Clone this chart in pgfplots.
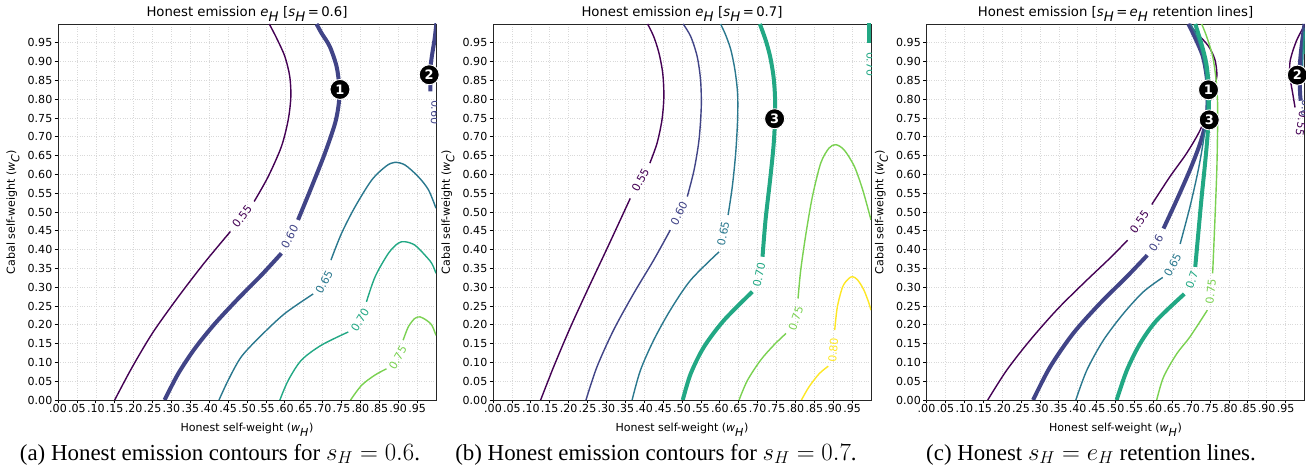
\documentclass[border=0pt]{standalone}
\usepackage{pgfplots}
\pgfplotsset{compat=1.18}
\usepackage{fontspec}
\setmainfont{Liberation Serif}
\newfontfamily\dejavu{DejaVu Sans}
\definecolor{v0}{HTML}{440154}
\definecolor{v1}{HTML}{414487}
\definecolor{v2}{HTML}{2A788E}
\definecolor{v3}{HTML}{22A884}
\definecolor{v4}{HTML}{7AD151}
\definecolor{v5}{HTML}{FDE725}
\newcommand{\sub}[2]{\textit{#1}$_{\textit{#2}}$}
\tikzset{clab/.style={font=\dejavu\fontsize{11}{11}\selectfont, inner sep=0pt}}
\pgfplotsset{
  panel/.style={
    scale only axis, width=378bp, height=376bp,
    xmin=0, xmax=1, ymin=0, ymax=1,
    xtick={0,0.05,0.1,0.15,0.2,0.25,0.3,0.35,0.4,0.45,0.5,0.55,0.6,0.65,0.7,0.75,0.8,0.85,0.9,0.95},
    ytick={0,0.05,0.1,0.15,0.2,0.25,0.3,0.35,0.4,0.45,0.5,0.55,0.6,0.65,0.7,0.75,0.8,0.85,0.9,0.95},
    xticklabels={.00,.05,.10,.15,.20,.25,.30,.35,.40,.45,.50,.55,.60,.65,.70,.75,.80,.85,.90,.95},
    yticklabels={0.00,0.05,0.10,0.15,0.20,0.25,0.30,0.35,0.40,0.45,0.50,0.55,0.60,0.65,0.70,0.75,0.80,0.85,0.90,0.95},
    tick align=outside, tick pos=left, major tick length=3.5bp,
    grid=major, grid style={dotted, gray!30, line width=0.6bp},
    axis line style={black!85, line width=0.8bp},
    every tick/.style={black, line width=0.8bp},
    ticklabel style={font=\dejavu\fontsize{11.1}{12}\selectfont},
    xticklabel style={inner sep=1bp},
    yticklabel style={inner sep=2bp},
    every axis x label/.style={at={(axis description cs:0.5,-0.0843)}, anchor=base, font=\dejavu\fontsize{11.1}{12}\selectfont},
    every axis y label/.style={at={(axis description cs:-0.119,0.5)}, anchor=center, rotate=90, font=\dejavu\fontsize{11.1}{12}\selectfont},
    every axis title/.style={at={(axis description cs:0.5,1.0194)}, anchor=base, font=\dejavu\fontsize{13.3}{15}\selectfont},
    xlabel={Honest self-weight (\sub{w}{H})},
    ylabel={Cabal self-weight (\sub{w}{C})},
  },
  ln/.style={smooth, no marks, line width=1.4bp},
  tk/.style={smooth, no marks, line width=4bp},
  mk/.style={only marks, mark=*, mark size=10bp,
    mark options={fill=black, draw=white, line width=0.9bp},
    point meta=explicit symbolic, nodes near coords,
    nodes near coords style={anchor=center, text=white, inner sep=0pt,
      font=\dejavu\bfseries\fontsize{13}{13}\selectfont}},
}
\begin{document}
\begin{tikzpicture}
\path[use as bounding box] (0,0) rectangle (1306bp,476bp);
% ---------------- panel (a)
\begin{axis}[panel, at={(58bp,76bp)}, anchor=south west,
  title={Honest emission \sub{e}{H} [\sub{s}{H}\,=\,0.6]}]
\addplot[ln, v0] coordinates {(0.150,0) (0.195,0.085) (0.250,0.178) (0.315,0.270) (0.385,0.362) (0.456,0.448)};
\addplot[ln, v0] coordinates {(0.519,0.528) (0.556,0.594) (0.591,0.674) (0.609,0.745) (0.616,0.807) (0.613,0.861) (0.600,0.914) (0.578,0.963) (0.559,1.0)};
\addplot[tk, v1] coordinates {(0.282,0) (0.318,0.070) (0.362,0.137) (0.415,0.203) (0.477,0.270) (0.538,0.332) (0.591,0.390)};
\addplot[tk, v1] coordinates {(0.635,0.479) (0.671,0.567) (0.706,0.656) (0.733,0.736) (0.743,0.790) (0.744,0.834) (0.737,0.887) (0.719,0.940) (0.697,0.976) (0.684,1.0)};
\addplot[tk, v1] coordinates {(1.002,1.01) (0.996,0.958) (0.989,0.914) (0.985,0.878) (0.985,0.821)};
\addplot[ln, v2] coordinates {(0.426,0) (0.450,0.052) (0.485,0.115) (0.538,0.172) (0.600,0.230) (0.675,0.282)};
\addplot[ln, v2] coordinates {(0.722,0.372) (0.750,0.443) (0.786,0.514) (0.830,0.585) (0.868,0.622) (0.891,0.632) (0.918,0.625) (0.953,0.594) (0.980,0.559) (1.0,0.510)};
\addplot[ln, v3] coordinates {(0.587,0) (0.609,0.052) (0.644,0.106) (0.697,0.146) (0.768,0.181)};
\addplot[ln, v3] coordinates {(0.816,0.261) (0.839,0.328) (0.874,0.390) (0.900,0.417) (0.918,0.421) (0.944,0.412) (0.971,0.385) (0.989,0.363) (1.0,0.337)};
\addplot[ln, v4] coordinates {(0.774,0) (0.803,0.039) (0.838,0.066) (0.869,0.083)};
\addplot[ln, v4] coordinates {(0.913,0.159) (0.927,0.195) (0.944,0.217) (0.958,0.221) (0.975,0.212) (0.989,0.199) (1.0,0.172)};
\node[clab, text=v0, rotate=52] at (axis cs:0.487,0.488) {0.55};
\node[clab, text=v1, rotate=63] at (axis cs:0.613,0.434) {0.60};
\node[clab, text=v2, rotate=62] at (axis cs:0.704,0.314) {0.65};
\node[clab, text=v3, rotate=59] at (axis cs:0.799,0.212) {0.70};
\node[clab, text=v4, rotate=60] at (axis cs:0.899,0.113) {0.75};
\node[clab, text=v1, rotate=-92] at (axis cs:0.998,0.765) {0.60};
\addplot[mk] coordinates {(0.746,0.826)[1] (0.982,0.865)[2]};
\end{axis}
% ---------------- panel (b)
\begin{axis}[panel, at={(493bp,76bp)}, anchor=south west,
  title={Honest emission \sub{e}{H} [\sub{s}{H}\,=\,0.7]}]
\addplot[ln, v0] coordinates {(0.126,0) (0.162,0.092) (0.205,0.194) (0.252,0.297) (0.305,0.410) (0.363,0.536)};
\addplot[ln, v0] coordinates {(0.415,0.630) (0.434,0.683) (0.447,0.745) (0.452,0.807) (0.449,0.869) (0.439,0.923) (0.425,0.967) (0.409,1.0)};
\addplot[ln, v1] coordinates {(0.246,0) (0.275,0.088) (0.319,0.186) (0.372,0.283) (0.425,0.372) (0.469,0.452)};
\addplot[ln, v1] coordinates {(0.514,0.541) (0.532,0.612) (0.545,0.692) (0.551,0.781) (0.549,0.852) (0.540,0.914) (0.523,0.967) (0.503,1.0)};
\addplot[ln, v2] coordinates {(0.368,0) (0.390,0.079) (0.425,0.159) (0.469,0.239) (0.523,0.319) (0.598,0.394)};
\addplot[ln, v2] coordinates {(0.622,0.492) (0.633,0.567) (0.642,0.656) (0.647,0.745) (0.647,0.816) (0.640,0.878) (0.629,0.932) (0.615,0.972) (0.602,1.0)};
\addplot[tk, v3] coordinates {(0.502,0) (0.523,0.070) (0.558,0.141) (0.611,0.212) (0.686,0.288)};
\addplot[tk, v3] coordinates {(0.713,0.381) (0.721,0.479) (0.733,0.585) (0.742,0.674) (0.746,0.745) (0.746,0.807) (0.742,0.861) (0.733,0.914) (0.721,0.958) (0.706,1.0)};
\addplot[tk, v3] coordinates {(0.996,1.01) (0.996,0.95)};
\addplot[ln, v4] coordinates {(0.651,0) (0.673,0.052) (0.708,0.106) (0.743,0.146) (0.775,0.177)};
\addplot[ln, v4] coordinates {(0.807,0.270) (0.814,0.345) (0.828,0.443) (0.845,0.541) (0.867,0.630) (0.889,0.670) (0.907,0.679) (0.929,0.665) (0.956,0.621) (0.978,0.559) (1.0,0.479)};
\addplot[ln, v5] coordinates {(0.816,0) (0.836,0.035) (0.863,0.070) (0.887,0.090)};
\addplot[ln, v5] coordinates {(0.904,0.186) (0.911,0.248) (0.925,0.301) (0.940,0.322) (0.951,0.328) (0.964,0.320) (0.980,0.295) (0.993,0.262) (1.0,0.239)};
\node[clab, text=v0, rotate=62] at (axis cs:0.390,0.585) {0.55};
\node[clab, text=v1, rotate=63] at (axis cs:0.492,0.496) {0.60};
\node[clab, text=v2, rotate=78] at (axis cs:0.609,0.443) {0.65};
\node[clab, text=v3, rotate=78] at (axis cs:0.704,0.332) {0.70};
\node[clab, text=v4, rotate=71] at (axis cs:0.801,0.217) {0.75};
\node[clab, text=v5, rotate=85] at (axis cs:0.900,0.132) {0.80};
\node[clab, text=v3, rotate=-90] at (axis cs:0.999,0.893) {0.70};
\addplot[mk] coordinates {(0.745,0.748)[3]};
\end{axis}
% ---------------- panel (c)
\begin{axis}[panel, at={(926.5bp,76bp)}, anchor=south west,
  title={Honest emission [\sub{s}{H}\,=\,\sub{e}{H} retention lines]}]
\addplot[ln, v0] coordinates {(0.162,0) (0.212,0.079) (0.274,0.159) (0.344,0.239) (0.415,0.310) (0.485,0.377) (0.532,0.425)};
\addplot[ln, v0] coordinates {(0.596,0.520) (0.644,0.594) (0.688,0.656) (0.724,0.718) (0.743,0.772) (0.757,0.816) (0.768,0.861) (0.763,0.905) (0.746,0.941) (0.715,0.976) (0.693,1.0)};
\addplot[ln, v0] coordinates {(1.002,1.0) (0.979,0.956) (0.962,0.902) (0.962,0.858) (0.969,0.814) (0.975,0.778)};
\addplot[tk, v1] coordinates {(0.282,0) (0.327,0.088) (0.388,0.177) (0.459,0.257) (0.530,0.328) (0.584,0.385)};
\addplot[tk, v1] coordinates {(0.627,0.456) (0.662,0.532) (0.697,0.612) (0.724,0.683) (0.740,0.745) (0.744,0.807) (0.741,0.861) (0.731,0.914) (0.713,0.958) (0.693,1.0)};
\addplot[tk, v1] coordinates {(1.0,1.0) (0.993,0.947) (0.988,0.894) (0.988,0.823) (0.990,0.796)};
\addplot[ln, v2] coordinates {(0.395,0) (0.424,0.079) (0.468,0.159) (0.521,0.230) (0.574,0.288) (0.625,0.326)};
\addplot[ln, v2] coordinates {(0.671,0.415) (0.697,0.514) (0.719,0.612) (0.733,0.692) (0.740,0.754) (0.741,0.816) (0.738,0.869) (0.729,0.923) (0.715,0.967) (0.699,1.0)};
\addplot[ln, v2] coordinates {(1.0,0.99) (0.996,0.93) (0.995,0.86)};
\addplot[tk, v3] coordinates {(0.503,0) (0.530,0.079) (0.565,0.150) (0.609,0.212) (0.682,0.282)};
\addplot[tk, v3] coordinates {(0.711,0.354) (0.719,0.443) (0.728,0.541) (0.737,0.630) (0.744,0.710) (0.747,0.781) (0.746,0.843) (0.740,0.896) (0.728,0.945) (0.711,1.0)};
\addplot[tk, v3] coordinates {(1.003,0.98) (1.002,0.92)};
\addplot[ln, v4] coordinates {(0.609,0) (0.627,0.061) (0.662,0.123) (0.697,0.168) (0.743,0.239)};
\addplot[ln, v4] coordinates {(0.757,0.337) (0.763,0.479) (0.768,0.612) (0.770,0.718) (0.770,0.790) (0.766,0.852) (0.757,0.914) (0.741,0.967) (0.728,1.0)};
\node[clab, text=v0, rotate=55] at (axis cs:0.563,0.474) {0.55};
\node[clab, text=v1, rotate=60] at (axis cs:0.607,0.418) {0.6};
\node[clab, text=v2, rotate=62] at (axis cs:0.651,0.359) {0.65};
\node[clab, text=v3, rotate=70] at (axis cs:0.702,0.319) {0.7};
\node[clab, text=v4, rotate=84] at (axis cs:0.752,0.288) {0.75};
\node[clab, text=v0, rotate=-100] at (axis cs:0.992,0.735) {0.55};
\node[clab, text=v1, rotate=-95] at (axis cs:1.003,0.775) {0.6};
\addplot[mk] coordinates {(0.746,0.825)[1] (0.748,0.745)[3] (0.981,0.864)[2]};
\end{axis}
% ---------------- captions
\node[anchor=base, font=\fontsize{23}{27}\selectfont] at (220bp,16bp) {(a) Honest emission contours for $s_H = 0.6$.};
\node[anchor=base, font=\fontsize{23}{27}\selectfont] at (656bp,16bp) {(b) Honest emission contours for $s_H = 0.7$.};
\node[anchor=base, font=\fontsize{23}{27}\selectfont] at (1091bp,16bp) {(c) Honest $s_H = e_H$ retention lines.};
\end{tikzpicture}
\end{document}
